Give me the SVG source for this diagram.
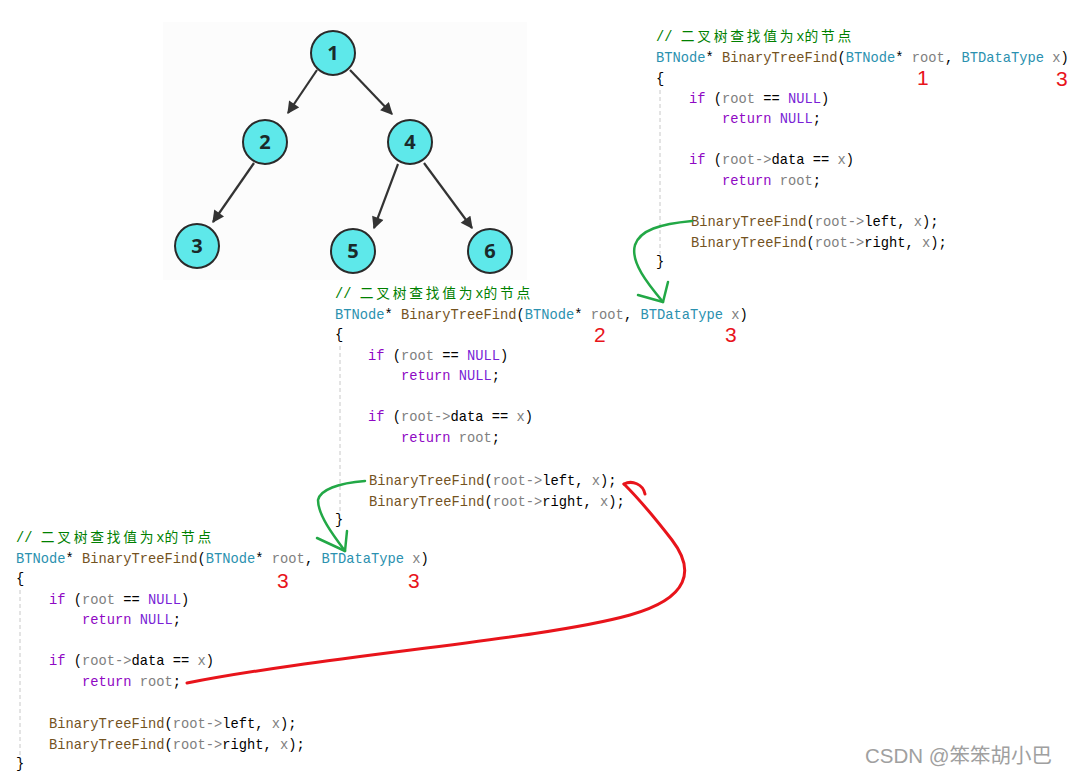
<svg xmlns="http://www.w3.org/2000/svg" width="1078" height="774" viewBox="0 0 1078 774">
<defs>
<style>
.code{font-family:"Liberation Mono","Noto Sans CJK SC",monospace;font-size:13.75px;fill:#000;white-space:pre}
.cm{fill:#008000}
.cjk{letter-spacing:2.75px}
.ty{fill:#2B91AF}
.fn{fill:#74531F}
.pr{fill:#808080}
.kw{fill:#8F08C4}
.nl{fill:#7A1FD6}
.num{font-family:"Liberation Sans",Arial,sans-serif;font-size:21px;fill:#E8141B}
.guide{stroke:#C8C8C8;stroke-width:1;stroke-dasharray:4 3}
.node circle{fill:#5EE8EA;stroke:#2a2a2a;stroke-width:2}
.node text{font-family:"Open Sans","DejaVu Sans",sans-serif;font-weight:bold;font-size:20px;fill:#1a2a2a;text-anchor:middle}
.edge{stroke:#333;stroke-width:2.2;fill:none;marker-end:url(#ah)}
.green{stroke:#22A846;stroke-width:2.5;fill:none;stroke-linecap:round;stroke-linejoin:round}
.red{stroke:#E8141B;stroke-width:3;fill:none;stroke-linecap:round;stroke-linejoin:round}
</style>
<marker id="ah" viewBox="0 0 10 10" refX="9" refY="5" markerWidth="6" markerHeight="5.5" orient="auto" markerUnits="strokeWidth">
<path d="M0,0 L10,5 L0,10 z" fill="#333"/>
</marker>
</defs>
<rect width="1078" height="774" fill="#fff"/>

<g id="tree">
<rect x="163" y="22" width="364" height="258" fill="#fcfcfc"/>
<g id="tree-edges">
<line class="edge" x1="317" y1="70" x2="288" y2="113"/>
<line class="edge" x1="350" y1="70" x2="392" y2="114"/>
<line class="edge" x1="254" y1="163" x2="213" y2="222"/>
<line class="edge" x1="398" y1="164" x2="374" y2="228"/>
<line class="edge" x1="424" y1="163" x2="472" y2="228"/>
</g>
<g id="n1" class="node"><circle cx="333" cy="53" r="22"/><text x="333" y="60">1</text></g>
<g id="n2" class="node"><circle cx="265" cy="142" r="22"/><text x="265" y="149">2</text></g>
<g id="n4" class="node"><circle cx="410" cy="142" r="22"/><text x="410" y="149">4</text></g>
<g id="n3" class="node"><circle cx="197" cy="246" r="22"/><text x="197" y="253">3</text></g>
<g id="n5" class="node"><circle cx="353" cy="251" r="22"/><text x="353" y="258">5</text></g>
<g id="n6" class="node"><circle cx="490" cy="251" r="22"/><text x="490" y="258">6</text></g>
</g>

<g id="code1">
<line class="guide" x1="660" y1="90" x2="660" y2="254"/>
<text class="code cm" x="656" y="41">// <tspan class="cjk">二叉树查找值为</tspan>x<tspan class="cjk">的节点</tspan></text>
<text class="code" x="656" y="62"><tspan class="ty">BTNode</tspan>* <tspan class="fn">BinaryTreeFind</tspan>(<tspan class="ty">BTNode</tspan>* <tspan class="pr">root</tspan>, <tspan class="ty">BTDataType</tspan> <tspan class="pr">x</tspan>)</text>
<text class="code" x="656" y="83">{</text>
<text class="code" x="689" y="103"><tspan class="kw">if</tspan> (<tspan class="pr">root</tspan> == <tspan class="nl">NULL</tspan>)</text>
<text class="code" x="722" y="123"><tspan class="kw">return</tspan> <tspan class="nl">NULL</tspan>;</text>
<text class="code" x="689" y="164"><tspan class="kw">if</tspan> (<tspan class="pr">root-&gt;</tspan>data == <tspan class="pr">x</tspan>)</text>
<text class="code" x="722" y="185"><tspan class="kw">return</tspan> <tspan class="pr">root</tspan>;</text>
<text class="code" x="691" y="226"><tspan class="fn">BinaryTreeFind</tspan>(<tspan class="pr">root-&gt;</tspan>left, <tspan class="pr">x</tspan>);</text>
<text class="code" x="691" y="247"><tspan class="fn">BinaryTreeFind</tspan>(<tspan class="pr">root-&gt;</tspan>right, <tspan class="pr">x</tspan>);</text>
<text class="code" x="656" y="266">}</text>
<text class="num" x="917" y="85">1</text>
<text class="num" x="1056" y="86">3</text>
</g>

<g id="code2">
<line class="guide" x1="340" y1="346" x2="340" y2="512"/>
<text class="code cm" x="335" y="298">// <tspan class="cjk">二叉树查找值为</tspan>x<tspan class="cjk">的节点</tspan></text>
<text class="code" x="335" y="319"><tspan class="ty">BTNode</tspan>* <tspan class="fn">BinaryTreeFind</tspan>(<tspan class="ty">BTNode</tspan>* <tspan class="pr">root</tspan>, <tspan class="ty">BTDataType</tspan> <tspan class="pr">x</tspan>)</text>
<text class="code" x="335" y="339">{</text>
<text class="code" x="368" y="360"><tspan class="kw">if</tspan> (<tspan class="pr">root</tspan> == <tspan class="nl">NULL</tspan>)</text>
<text class="code" x="401" y="380"><tspan class="kw">return</tspan> <tspan class="nl">NULL</tspan>;</text>
<text class="code" x="368" y="421"><tspan class="kw">if</tspan> (<tspan class="pr">root-&gt;</tspan>data == <tspan class="pr">x</tspan>)</text>
<text class="code" x="401" y="442"><tspan class="kw">return</tspan> <tspan class="pr">root</tspan>;</text>
<text class="code" x="369" y="485"><tspan class="fn">BinaryTreeFind</tspan>(<tspan class="pr">root-&gt;</tspan>left, <tspan class="pr">x</tspan>);</text>
<text class="code" x="369" y="506"><tspan class="fn">BinaryTreeFind</tspan>(<tspan class="pr">root-&gt;</tspan>right, <tspan class="pr">x</tspan>);</text>
<text class="code" x="335" y="524">}</text>
<text class="num" x="594" y="342">2</text>
<text class="num" x="725" y="342">3</text>
</g>

<g id="code3">
<line class="guide" x1="20" y1="590" x2="20" y2="756"/>
<text class="code cm" x="16" y="542">// <tspan class="cjk">二叉树查找值为</tspan>x<tspan class="cjk">的节点</tspan></text>
<text class="code" x="16" y="563"><tspan class="ty">BTNode</tspan>* <tspan class="fn">BinaryTreeFind</tspan>(<tspan class="ty">BTNode</tspan>* <tspan class="pr">root</tspan>, <tspan class="ty">BTDataType</tspan> <tspan class="pr">x</tspan>)</text>
<text class="code" x="16" y="583">{</text>
<text class="code" x="49" y="604"><tspan class="kw">if</tspan> (<tspan class="pr">root</tspan> == <tspan class="nl">NULL</tspan>)</text>
<text class="code" x="82" y="624"><tspan class="kw">return</tspan> <tspan class="nl">NULL</tspan>;</text>
<text class="code" x="49" y="665"><tspan class="kw">if</tspan> (<tspan class="pr">root-&gt;</tspan>data == <tspan class="pr">x</tspan>)</text>
<text class="code" x="82" y="686"><tspan class="kw">return</tspan> <tspan class="pr">root</tspan>;</text>
<text class="code" x="49" y="728"><tspan class="fn">BinaryTreeFind</tspan>(<tspan class="pr">root-&gt;</tspan>left, <tspan class="pr">x</tspan>);</text>
<text class="code" x="49" y="749"><tspan class="fn">BinaryTreeFind</tspan>(<tspan class="pr">root-&gt;</tspan>right, <tspan class="pr">x</tspan>);</text>
<text class="code" x="16" y="768">}</text>
<text class="num" x="277" y="588">3</text>
<text class="num" x="408" y="588">3</text>
</g>

<g id="connectors">
<path class="green" d="M692,221 C660,224 640,230 635,245 C630,262 648,284 663,302"/>
<path class="green" d="M638,295 L663,302 L668,282"/>
<path class="green" d="M365,481 C338,483 320,490 318,500 C318,515 333,535 345,551"/>
<path class="green" d="M317,538 L345,551 L347,531"/>
<path class="red" d="M187,683 C330,655 540,640 630,615 C690,598 695,570 672,540 C655,518 640,500 624,484"/>
<path class="red" d="M624,484 C632,480 643,484 645,494"/>
</g>

<text x="865" y="763" font-family="'Liberation Sans','Noto Sans CJK SC',sans-serif" font-size="20.5" fill="#a0a0a0">CSDN @笨笨胡小巴</text>
</svg>
